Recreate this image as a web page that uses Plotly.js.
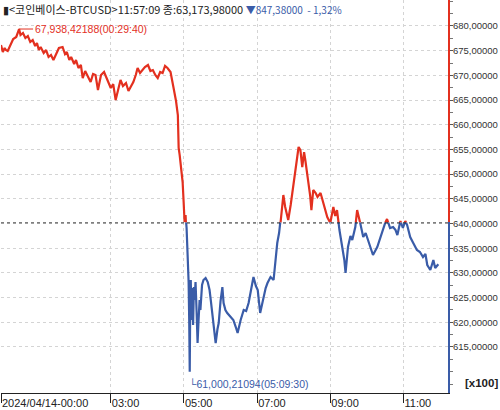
<!DOCTYPE html>
<html><head><meta charset="utf-8">
<script src="https://cdn.plot.ly/plotly-3.0.1.min.js"></script>
<style>html,body{margin:0;padding:0;background:#fff}#c{width:500px;height:410px}</style>
</head><body><div id="c"></div>
<script>
// ---- data ----
const day = '2024-04-14';
const times = ['00:00:00','00:03:00','00:06:00','00:08:00','00:11:00','00:16:00','00:20:00','00:25:00','00:27:00','00:29:40',
'00:32:00','00:36:00','00:40:00','00:44:00','00:48:00','00:52:00','00:56:00','00:59:00','01:02:00','01:05:00',
'01:10:00','01:14:00','01:18:00','01:22:00','01:26:00','01:30:00','01:35:00','01:41:00','01:45:00','01:48:00',
'01:52:00','01:55:00','02:00:00','02:03:00','02:07:00','02:11:00','02:14:00','02:18:00','02:21:00','02:24:00',
'02:27:00','02:31:00','02:35:00','02:39:00','02:44:00','02:49:00','02:55:00','03:00:00','03:04:00','03:08:00',
'03:12:00','03:16:00','03:20:00','03:25:00','03:29:00','03:33:00','03:37:00','03:41:00','03:44:00','03:48:00',
'03:52:00','03:56:00','04:01:00','04:05:00','04:09:00','04:13:00','04:17:00','04:21:00','04:25:00','04:29:00',
'04:33:00','04:38:00','04:43:00','04:47:00','04:50:00','04:51:20','04:53:00','04:54:30','04:56:00','04:57:50',
'04:59:30','05:01:00','05:02:40','05:04:20','05:06:00','05:07:40','05:08:40','05:09:30','05:10:20','05:11:10',
'05:12:20','05:13:40','05:15:00','05:16:20','05:17:30','05:19:00','05:20:40','05:22:20','05:24:00','05:25:40',
'05:27:00','05:29:40','05:32:00','05:35:30','05:39:00','05:42:00','05:44:00','05:47:00','05:50:00','05:52:00',
'05:55:00','05:57:00','06:00:00','06:03:00','06:05:00','06:08:00','06:11:00','06:16:00','06:21:00','06:25:00',
'06:28:00','06:33:00','06:38:00','06:42:00','06:46:00','06:50:00','06:54:00','06:58:00','07:01:00','07:05:00',
'07:10:00','07:14:00','07:17:00','07:22:00','07:27:00','07:30:00','07:33:00','07:36:00','07:38:00','07:41:00',
'07:43:00','07:46:00','07:49:00','07:51:00','07:55:00','07:59:00','08:03:00','08:06:00','08:08:00','08:11:00',
'08:14:00','08:17:00','08:19:00','08:22:00','08:24:00','08:27:00','08:29:00','08:32:00','08:36:00','08:39:00',
'08:44:00','08:49:00','08:52:00','08:55:00','09:00:00','09:05:00','09:08:00','09:11:00','09:15:00','09:20:00',
'09:23:00','09:25:00','09:27:00','09:29:00','09:33:00','09:36:00','09:41:00','09:44:00','09:49:00','09:54:00',
'09:58:00','10:02:00','10:06:00','10:10:00','10:17:00','10:21:00','10:25:00','10:30:00','10:33:00','10:38:00',
'10:43:00','10:47:00','10:50:00','10:55:00','10:59:00','11:03:00','11:06:00','11:11:00','11:16:00','11:22:00',
'11:27:00','11:32:00','11:36:00','11:39:00','11:44:00','11:49:00','11:52:00','11:57:09'];
const prices = [67615,67472,67554,67513,67493,67615,67736,67777,67858,67938.42188,
67817,67858,67757,67797,67676,67716,67594,67655,67513,67574,
67452,67513,67372,67412,67311,67412,67554,67574,67432,67473,
67311,67372,67230,67311,67149,67210,66946,67088,67007,66926,
66865,67027,67007,66703,67007,67068,66906,66744,66824,66501,
66703,66906,66784,66845,66683,66764,66865,67007,67149,67048,
67108,67169,67210,67088,67108,67007,66946,67068,67048,67190,
67149,67068,66744,66480,66197,65529,65387,65185,64962,64840,
64435,64030,64172,63909,63362,62815,62005,61000.21094,62451,62856,
62046,62694,61945,62714,62451,62815,62248,61580,62046,62451,
62248,62755,62856,62896,62815,62653,62450,62107,61823,61580,
61863,61985,62430,62714,62390,62248,62188,62107,62046,61904,
61783,62046,62248,62228,62390,62653,62917,62734,62653,62188,
62512,62694,62795,62917,62856,63220,63605,63808,63970,64349,
64577,64334,64173,64071,64375,64780,65083,65367,65549,65488,
65144,65447,65286,65042,64881,64558,64273,64678,64618,64537,
64618,64415,64294,64132,64010,64334,64152,64273,63868,63524,
63261,62998,63300,63524,63747,63666,63929,64273,64010,63727,
63808,63666,63504,63362,63524,63686,63808,64010,64091,63909,
63929,63868,63767,64051,63909,64051,63970,63727,63605,63463,
63423,63322,63382,63160,63058,63261,63099,63173.98];
const prevClose = 64021.36;          // 63,173.98 + 847.38
const yTickVals = [61500,62000,62500,63000,63500,64000,64500,65000,65500,66000,66500,67000,67500,68000];
const xTickVals = ['00:00','03:00','05:00','07:00','09:00','11:00'];
const xTickText = ['2024/04/14-00:00','03:00','05:00','07:00','09:00','11:00'];
const header = '▮<코인베이스-BTCUSD>11:57:09 종:63,173,98000 ';
const headerChg = '▼847,38000  - 1,32%';

// ---- chart ----
const RED = '#e3301f', BLUE = '#3a5ca8';
const x = times.map(t => day + ' ' + t);
const highIdx = prices.indexOf(Math.max(...prices));
const lowIdx = prices.indexOf(Math.min(...prices));
const yMin = 60568, yMax = 68526;
const d = (prevClose - yMin) / (yMax - yMin);
const fmt = v => (v/100).toFixed(5).replace('.', ',');
const fmtP = v => v.toFixed(5).replace(/\B(?=(\d{3})+(?!\d))/, ',').replace('.', ',');
const topT = yTickVals.filter(v => v > prevClose), botT = yTickVals.filter(v => v < prevClose);

const traces = [
  {x, y: prices, xaxis:'x', yaxis:'y', mode:'lines', line:{color:RED, width:2.2}, hoverinfo:'skip'},
  {x, y: prices, xaxis:'x', yaxis:'y2', mode:'lines', line:{color:BLUE, width:2.2}, hoverinfo:'skip'}
];
const tickfont = {family:'"Liberation Sans", Arial, sans-serif', size:9.5, color:'#333'};
const yCommon = {side:'right', anchor:'x', showline:true, linewidth:2, ticks:'outside', ticklen:3,
  tickcolor:'#555', showgrid:true, gridcolor:'#d4d4d4', griddash:'dot', zeroline:false, tickfont,
  ticklabelstandoff:-2, fixedrange:true,
  minor:{ticks:'outside', ticklen:3, tickcolor:'#777', dtick:250, showgrid:false}};
const layout = {
  width:500, height:410, margin:{l:1, r:52, t:0, b:17}, paper_bgcolor:'#fff', plot_bgcolor:'#fff',
  showlegend:false, hovermode:false,
  xaxis:{type:'date', anchor:'y2', range:[day+' 00:00', day+' 12:13'], tickmode:'array',
    tickvals:xTickVals.map(t=>day+' '+t), ticktext:xTickText, ticks:'outside', ticklen:9, tickcolor:'#222',
    ticklabelposition:'outside right', showline:true, linecolor:'#222', linewidth:1, mirror:false,
    showgrid:true, gridcolor:'#d4d4d4', griddash:'dot', zeroline:false,
    tickfont:{family:'"Liberation Sans", Arial, sans-serif', size:11, color:'#222'}},
  yaxis:Object.assign({}, yCommon, {domain:[d,1], range:[prevClose, yMax], linecolor:RED,
    tickmode:'array', tickvals:topT, ticktext:topT.map(fmt)}),
  yaxis2:Object.assign({}, yCommon, {domain:[0,d], range:[yMin, prevClose], linecolor:BLUE,
    tickmode:'array', tickvals:botT, ticktext:botT.map(fmt)}),
  shapes:[{type:'line', xref:'paper', x0:0, x1:1, yref:'y2', y0:prevClose, y1:prevClose,
    line:{color:'#000', width:1.5, dash:'3px,3px'}}],
  annotations:[
    {xref:'paper', yref:'paper', x:0, y:1, xanchor:'left', yanchor:'top', yshift:1, showarrow:false,
     text: '<span style="font-size:11px">' + header.replace(/</g,'&lt;').replace(/>/g,'&gt;') + '</span>' +
       '<span style="color:'+BLUE+'">'+headerChg+'</span>',
     font:{family:'"Noto Sans CJK KR", sans-serif', size:10, color:'#222'}},
    {x:x[highIdx], y:prices[highIdx], xref:'x', yref:'y', text: fmtP(prices[highIdx])+'('+times[highIdx]+')',
     showarrow:true, arrowhead:0, arrowwidth:1, arrowcolor:RED, ax:14, ay:0, xanchor:'left',
     font:{family:'"Liberation Sans", Arial, sans-serif', size:10.5, color:RED}},
    {x:x[lowIdx], y:prices[lowIdx], xref:'x', yref:'y2', text:'└'+fmtP(prices[lowIdx])+'('+times[lowIdx]+')',
     showarrow:false, xanchor:'left', yanchor:'middle', xshift:-3, yshift:-12,
     font:{family:'"Liberation Sans", Arial, sans-serif', size:10.5, color:BLUE}},
    {xref:'paper', yref:'paper', x:1, y:0, xanchor:'right', yanchor:'bottom', xshift:52, yshift:2,
     showarrow:false, text:'<b>[x100]</b>', font:{family:'"Liberation Sans", Arial, sans-serif', size:11.5, color:'#222'}}
  ]
};
Plotly.newPlot('c', traces, layout, {staticPlot:true, displayModeBar:false});
</script></body></html>
